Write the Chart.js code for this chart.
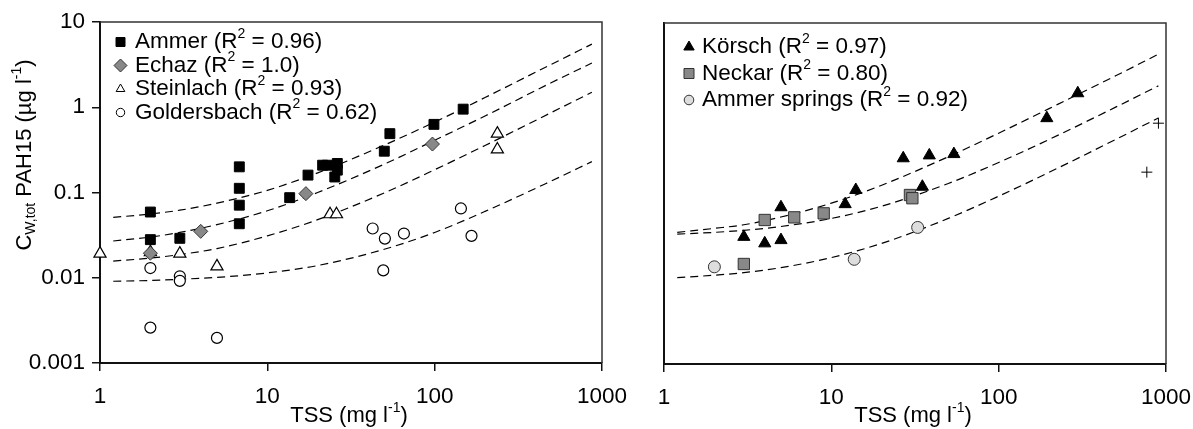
<!DOCTYPE html>
<html>
<head>
<meta charset="utf-8">
<script src="https://cdn.jsdelivr.net/npm/chart.js@4.4.0/dist/chart.umd.min.js"></script>
<style>
body{margin:0;background:#fff;width:1193px;height:429px;overflow:hidden;}
canvas{position:absolute;left:0;top:0;}
</style>
</head>
<body>
<canvas id="grafica_izq" width="1193" height="429"></canvas>
<canvas id="grafica_der" width="1193" height="429"></canvas>
<script>
// ejes
var tssTicks = [1, 10, 100, 1000];
var tssTickLabels = ['1', '10', '100', '1000'];
var pahTicks = [0.001, 0.01, 0.1, 1, 10];
var pahTickLabels = ['0.001', '0.01', '0.1', '1', '10'];

// panel izquierdo - medidas
var ammerTss = [2, 2, 3, 6.8, 6.8, 6.8, 6.8, 13.6, 17.5, 21.4, 22.8, 26.2, 26.2, 25.3, 50, 54, 99, 148];
var ammerPah = [0.059, 0.028, 0.029, 0.2, 0.112, 0.071, 0.043, 0.087, 0.16, 0.209, 0.209, 0.219, 0.183, 0.152, 0.305, 0.49, 0.63, 0.95];
var echazTss = [2, 4, 17, 97];
var echazPah = [0.0194, 0.035, 0.097, 0.37];
var steinTss = [1, 2, 3, 5, 23.7, 25.9, 237, 237];
var steinPah = [0.0192, 0.020, 0.0192, 0.0136, 0.0556, 0.0556, 0.49, 0.32];
var goldTss = [2, 3, 3, 2, 5, 42.6, 50.4, 65.5, 49.3, 143.5, 166];
var goldPah = [0.013, 0.0104, 0.0092, 0.0026, 0.00197, 0.0378, 0.0288, 0.033, 0.0122, 0.065, 0.031];

// panel izquierdo - curvas de ajuste
var fitTssIzq = [1.2, 2, 3, 5, 10, 20, 50, 100, 200, 500, 870];
var fitAmmer = [0.051, 0.056, 0.062, 0.075, 0.106, 0.17, 0.36, 0.67, 1.3, 3.2, 5.5];
var fitEchaz = [0.027, 0.030, 0.034, 0.042, 0.061, 0.10, 0.215, 0.41, 0.79, 1.95, 3.3];
var fitStein = [0.0157, 0.017, 0.0187, 0.022, 0.031, 0.048, 0.099, 0.185, 0.356, 0.87, 1.5];
var fitGold = [0.0091, 0.0093, 0.0096, 0.0101, 0.0114, 0.0139, 0.0216, 0.034, 0.060, 0.137, 0.23];

// panel derecho - medidas
var korschTss = [3, 4, 5, 5, 12.1, 14, 26.9, 38.5, 54, 35, 194, 297];
var korschPah = [0.031, 0.026, 0.0284, 0.069, 0.075, 0.11, 0.259, 0.28, 0.29, 0.12, 0.765, 1.5];
var neckarTss = [3, 4, 6, 9, 29.5, 30.5];
var neckarPah = [0.0149, 0.0489, 0.0525, 0.0585, 0.096, 0.088];
var springsTss = [2, 13.7, 32.8];
var springsPah = [0.0138, 0.0169, 0.040];
var crossTss = [901, 768];
var crossPah = [0.668, 0.178];

// panel derecho - curvas de ajuste
var fitTssDer = [1.2, 2, 3, 5, 10, 20, 50, 100, 200, 500, 900];
var fitKorsch = [0.035, 0.039, 0.043, 0.053, 0.077, 0.125, 0.27, 0.51, 0.99, 2.4, 4.3];
var fitNeckar = [0.0334, 0.035, 0.037, 0.041, 0.051, 0.071, 0.131, 0.231, 0.43, 1.03, 1.83];
var fitSprings = [0.0103, 0.011, 0.0118, 0.0135, 0.0177, 0.026, 0.051, 0.093, 0.177, 0.43, 0.77];

// leyendas
var nombresIzq = ['Ammer', 'Echaz', 'Steinlach', 'Goldersbach'];
var r2Izq = ['0.96', '1.0', '0.93', '0.62'];
var nombresDer = ['Körsch', 'Neckar', 'Ammer springs'];
var r2Der = ['0.97', '0.80', '0.92'];

var FONT = '"Liberation Sans", Arial, sans-serif';
var TXT = 22.5;

function puntos(xs, ys){
    var arr = [];
    xs.forEach(function(x, i){ arr.push({x: x, y: ys[i]}); });
    return arr;
}

function serie(xs, ys, estilo, radio, relleno, borde, ancho){
    return {
        data: puntos(xs, ys),
        showLine: false,
        pointStyle: estilo,
        pointRadius: radio,
        pointHoverRadius: radio,
        backgroundColor: relleno,
        borderColor: borde,
        borderWidth: ancho,
        clip: false
    };
}

function ajuste(xs, ys){
    return {
        data: puntos(xs, ys),
        showLine: true,
        pointRadius: 0,
        borderColor: '#000',
        borderWidth: 1.2,
        borderDash: [8, 5],
        cubicInterpolationMode: 'monotone',
        fill: false
    };
}

function escalas(yAncho, xAlto, conEtiquetasY){
    return {
        x: {
            type: 'logarithmic', min: 1, max: 1000,
            afterBuildTicks: function(s){ s.ticks = tssTicks.map(function(v){ return {value: v}; }); },
            afterFit: function(s){ s.height = xAlto; s.paddingLeft = 0; s.paddingRight = 0; },
            ticks: {
                autoSkip: false, maxRotation: 0, padding: 12, color: '#000',
                font: {family: FONT, size: TXT},
                callback: function(v){ return tssTickLabels[tssTicks.indexOf(v)]; }
            },
            grid: {display: true, drawOnChartArea: false, drawTicks: true, tickLength: 8, color: '#111', lineWidth: 1.5},
            border: {display: true, color: '#111', width: 2}
        },
        y: {
            type: 'logarithmic', min: 0.001, max: 10,
            afterBuildTicks: function(s){ s.ticks = pahTicks.map(function(v){ return {value: v}; }); },
            afterFit: function(s){ s.width = yAncho; s.paddingTop = 0; s.paddingBottom = 0; },
            ticks: {
                display: conEtiquetasY, autoSkip: false, padding: 7, color: '#000',
                font: {family: FONT, size: TXT},
                callback: function(v){ return pahTickLabels[pahTicks.indexOf(v)]; }
            },
            grid: {display: conEtiquetasY, drawOnChartArea: false, drawTicks: true, tickLength: 8, color: '#111', lineWidth: 1.5},
            border: {display: true, color: '#111', width: 2}
        }
    };
}

function dibujarMarca(ctx, m, x, y){
    ctx.save();
    ctx.fillStyle = m.relleno;
    ctx.strokeStyle = m.borde;
    ctx.lineWidth = m.ancho;
    ctx.beginPath();
    var r = m.r;
    if (m.estilo == 'rect') {
        ctx.rect(x - r, y - r, 2 * r, 2 * r);
    } else if (m.estilo == 'rectRot') {
        ctx.moveTo(x, y - r); ctx.lineTo(x + r, y); ctx.lineTo(x, y + r); ctx.lineTo(x - r, y); ctx.closePath();
    } else if (m.estilo == 'triangle') {
        ctx.moveTo(x, y - r); ctx.lineTo(x + r * 0.866, y + r * 0.5); ctx.lineTo(x - r * 0.866, y + r * 0.5); ctx.closePath();
    } else {
        ctx.arc(x, y, r, 0, Math.PI * 2);
    }
    ctx.fill();
    ctx.stroke();
    ctx.restore();
}

function anchoRico(ctx, partes, size){
    var w = 0;
    partes.forEach(function(p){
        ctx.font = (p[1] == 'n' ? size : Math.round(size * 0.62)) + 'px ' + FONT;
        w += ctx.measureText(p[0]).width;
    });
    return w;
}

function textoRico(ctx, partes, x, y, size){
    var cx = x;
    ctx.textAlign = 'left';
    ctx.textBaseline = 'middle';
    ctx.fillStyle = '#000';
    partes.forEach(function(p){
        ctx.font = (p[1] == 'n' ? size : Math.round(size * 0.62)) + 'px ' + FONT;
        var dy = p[1] == 'sup' ? -size * 0.36 : (p[1] == 'sub' ? size * 0.3 : 0);
        ctx.fillText(p[0], cx, y + dy);
        cx += ctx.measureText(p[0]).width;
    });
}

function partesLeyenda(nombre, r2){
    return [[nombre + ' (R', 'n'], ['2', 'sup'], [' = ' + r2 + ')', 'n']];
}

var tituloX = [['TSS (mg l', 'n'], ['-1', 'sup'], [')', 'n']];
var tituloY = [['C', 'n'], ['W,tot', 'sub'], [' PAH15 (µg l', 'n'], ['-1', 'sup'], [')', 'n']];

var decor = {
    grafica_izq: {
        leyenda: {x: 120.5, tx: 135, y0: 42, dy: 23.5, nombres: nombresIzq, r2: r2Izq, marcas: [
            {estilo: 'rect', r: 4.5, relleno: '#000', borde: '#000', ancho: 1},
            {estilo: 'rectRot', r: 6.5, relleno: '#888', borde: '#333', ancho: 1},
            {estilo: 'triangle', r: 5, relleno: '#fff', borde: '#000', ancho: 1},
            {estilo: 'circle', r: 4.2, relleno: '#fff', borde: '#000', ancho: 1}
        ]},
        xTitulo: {x: 349, y: 416},
        yTitulo: {x: 25, y: 155}
    },
    grafica_der: {
        leyenda: {x: 689, tx: 702, y0: 47, dy: 26.5, nombres: nombresDer, r2: r2Der, marcas: [
            {estilo: 'triangle', r: 6, relleno: '#000', borde: '#000', ancho: 1},
            {estilo: 'rect', r: 5, relleno: '#888', borde: '#333', ancho: 1},
            {estilo: 'circle', r: 4.8, relleno: '#ddd', borde: '#333', ancho: 1}
        ]},
        xTitulo: {x: 913, y: 416},
        yTitulo: null
    }
};

var decorPlugin = {
    id: 'decor',
    afterDraw: function(chart){
        var d = decor[chart.canvas.id];
        var ctx = chart.ctx;
        var a = chart.chartArea;
        ctx.save();
        // marco superior y derecho
        ctx.strokeStyle = '#333';
        ctx.lineWidth = 1.5;
        ctx.beginPath();
        ctx.moveTo(a.left, a.top);
        ctx.lineTo(a.right, a.top);
        ctx.lineTo(a.right, a.bottom);
        ctx.stroke();

        var L = d.leyenda;
        L.nombres.forEach(function(nombre, i){
            var y = L.y0 + i * L.dy;
            dibujarMarca(ctx, L.marcas[i], L.x, y);
            textoRico(ctx, partesLeyenda(nombre, L.r2[i]), L.tx, y, TXT);
        });

        var wx = anchoRico(ctx, tituloX, 22);
        textoRico(ctx, tituloX, d.xTitulo.x - wx / 2, d.xTitulo.y, 22);

        if (d.yTitulo) {
            ctx.save();
            ctx.translate(d.yTitulo.x, d.yTitulo.y);
            ctx.rotate(-Math.PI / 2);
            var wy = anchoRico(ctx, tituloY, 22);
            textoRico(ctx, tituloY, -wy / 2, 0, 22);
            ctx.restore();
        }
        ctx.restore();
    }
};

var opcionesBase = function(pad, yAncho, xAlto, conY){
    return {
        responsive: false,
        animation: false,
        devicePixelRatio: 1,
        layout: {padding: pad},
        plugins: {legend: {display: false}, tooltip: {enabled: false}},
        scales: escalas(yAncho, xAlto, conY)
    };
};

var chartIzq = new Chart(document.getElementById('grafica_izq'), {
    type: 'scatter',
    data: {
        datasets: [
            serie(ammerTss, ammerPah, 'rect', 7, '#000', '#000', 1),
            serie(echazTss, echazPah, 'rectRot', 7, '#888', '#333', 1),
            serie(steinTss, steinPah, 'triangle', 7, '#fff', '#000', 1.2),
            serie(goldTss, goldPah, 'circle', 5.5, '#fff', '#000', 1.2),
            ajuste(fitTssIzq, fitAmmer),
            ajuste(fitTssIzq, fitEchaz),
            ajuste(fitTssIzq, fitStein),
            ajuste(fitTssIzq, fitGold)
        ]
    },
    options: opcionesBase({left: 0, top: 22, right: 591, bottom: 0}, 100, 66, true),
    plugins: [decorPlugin]
});

var chartDer = new Chart(document.getElementById('grafica_der'), {
    type: 'scatter',
    data: {
        datasets: [
            serie(korschTss, korschPah, 'triangle', 7, '#000', '#000', 1),
            serie(neckarTss, neckarPah, 'rect', 8, '#888', '#333', 1),
            serie(springsTss, springsPah, 'circle', 6, '#ddd', '#333', 1),
            serie(crossTss, crossPah, 'cross', 5.5, '#000', '#000', 1),
            ajuste(fitTssDer, fitKorsch),
            ajuste(fitTssDer, fitNeckar),
            ajuste(fitTssDer, fitSprings)
        ]
    },
    options: opcionesBase({left: 0, top: 23, right: 27, bottom: 0}, 664, 65, false),
    plugins: [decorPlugin]
});
</script>
</body>
</html>
